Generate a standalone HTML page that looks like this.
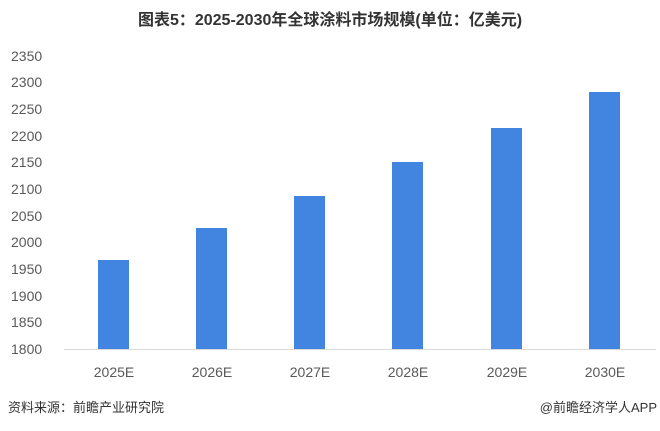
<!DOCTYPE html>
<html><head><meta charset="utf-8"><style>
body{margin:0;width:660px;height:426px;background:#fff;overflow:hidden;font-family:"Liberation Sans","Noto Sans CJK SC",sans-serif;}
</style></head><body>
<svg width="660" height="426" xmlns="http://www.w3.org/2000/svg" font-family="Liberation Sans, Noto Sans CJK SC, sans-serif">
<text x="330" y="25" text-anchor="middle" font-size="16" font-weight="bold" fill="#333">图表5：2025-2030年全球涂料市场规模(单位：亿美元)</text>
<g font-size="14" fill="#595959" text-anchor="start">
<text x="11" y="61">2350</text>
<text x="11" y="87">2300</text>
<text x="11" y="114">2250</text>
<text x="11" y="141">2200</text>
<text x="11" y="167">2150</text>
<text x="11" y="194">2100</text>
<text x="11" y="221">2050</text>
<text x="11" y="247">2000</text>
<text x="11" y="274">1950</text>
<text x="11" y="301">1900</text>
<text x="11" y="327">1850</text>
<text x="11" y="354">1800</text>
</g>
<line x1="64" y1="349.5" x2="656" y2="349.5" stroke="#d9d9d9" stroke-width="1"/>
<g fill="#4285e0">
<rect x="98" y="260" width="31" height="89"/>
<rect x="196" y="228" width="31" height="121"/>
<rect x="294" y="196" width="31" height="153"/>
<rect x="392" y="162" width="31" height="187"/>
<rect x="491" y="128" width="31" height="221"/>
<rect x="589" y="92" width="31" height="257"/>
</g>
<g font-size="14" fill="#595959" text-anchor="middle">
<text x="114" y="377">2025E</text>
<text x="212" y="377">2026E</text>
<text x="310" y="377">2027E</text>
<text x="408" y="377">2028E</text>
<text x="507" y="377">2029E</text>
<text x="605" y="377">2030E</text>
</g>
<text x="8" y="412" font-size="13" fill="#333">资料来源：前瞻产业研究院</text>
<text x="657" y="412" font-size="13" fill="#333" text-anchor="end">@前瞻经济学人APP</text>
</svg>
</body></html>
